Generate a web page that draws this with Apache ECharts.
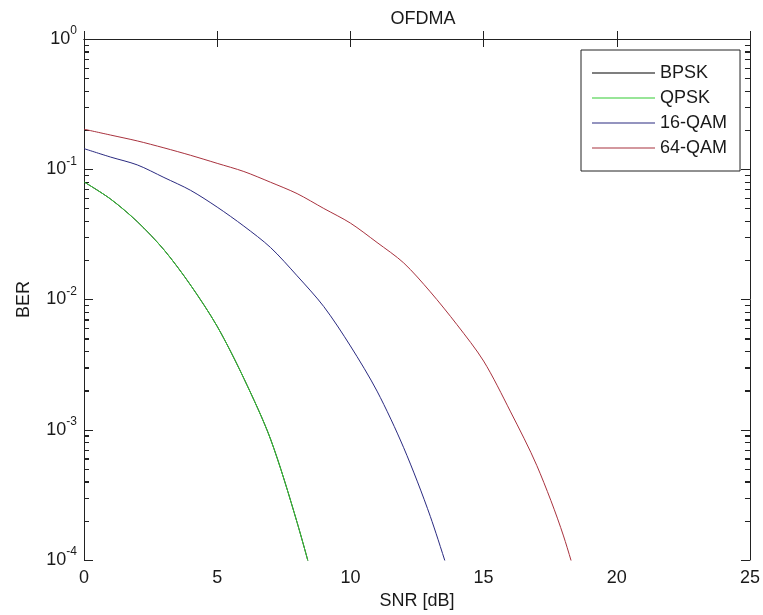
<!DOCTYPE html>
<html><head><meta charset="utf-8">
<script src="https://cdn.jsdelivr.net/npm/echarts@6/dist/echarts.min.js"></script>
<style>html,body{margin:0;padding:0;background:#fff}#c{width:763px;height:615px}</style>
</head><body><div id="c"></div>
<script>
// ---- data ----
const snrBPSK = [0,1,2,3,4,5,6,7,8,9];
const berBPSK = [0.080,0.059,0.0396,0.0241,0.0129,0.00622,0.00248,0.00085,0.000194,0.000035];
const snrQPSK = [0,1,2,3,4,5,6,7,8,9];
const berQPSK = [0.080,0.059,0.0396,0.0241,0.0129,0.00622,0.00248,0.00085,0.000194,0.000035];
const snr16QAM = [0,1,2,3,4,5,6,7,8,9,10,11,12,13,14];
const ber16QAM = [0.144,0.124,0.108,0.0865,0.0689,0.0512,0.0366,0.0251,0.0152,0.00883,0.0044,0.00198,0.000728,0.000216,0.00005];
const snr64QAM = [0,1,2,3,4,5,6,7,8,9,10,11,12,13,14,15,16,17,18,19];
const ber64QAM = [0.203,0.183,0.165,0.146,0.128,0.111,0.0961,0.0795,0.065,0.05,0.0386,0.0274,0.0191,0.01145,0.00641,0.00337,0.00139,0.00053,0.000153,0.00003];
const seriesNames = ['BPSK','QPSK','16-QAM','64-QAM'];
const xTickValues = [0,5,10,15,20,25];
const yDecadeExponents = [-4,-3,-2,-1,0];
const minorMultipliers = [2,3,4,5,6,7,8,9];

// ---- build ----
const pairs = (xs, ys) => xs.map((x, i) => [x, ys[i]]);
const yMin = Math.pow(10, yDecadeExponents[0]);
const yMax = Math.pow(10, yDecadeExponents[yDecadeExponents.length - 1]);
const xMin = xTickValues[0], xMax = xTickValues[xTickValues.length - 1];
const minorValues = [];
yDecadeExponents.slice(0, -1).forEach(e => minorMultipliers.forEach(m => minorValues.push(m * Math.pow(10, e))));
const minorLog = minorValues.map(v => Math.log10(v));

const txt = '#1a1a1a';
const axc = '#222';
const font = 'Liberation Sans, Arial, sans-serif';
const colors = ['#000000', '#33cc33', '#2a2a80', '#a8323e'];

const chart = echarts.init(document.getElementById('c'), null, {renderer: 'canvas'});
const axLine = {show: true, lineStyle: {color: axc, width: 1}};
const yMajor = (pos, labels) => ({
  type: 'log', logBase: 10, min: yMin, max: yMax,
  position: pos, axisLine: axLine, splitLine: {show: false},
  axisTick: {show: true, inside: true, length: 9, lineStyle: {color: axc}},
  axisLabel: labels ? {
    show: true, margin: 7, color: txt, fontFamily: font,
    formatter: v => '{b|10}{s|' + Math.round(Math.log10(v)) + '}',
    rich: {b: {fontSize: 18, fontFamily: font, color: txt}, s: {fontSize: 12, fontFamily: font, color: txt, padding: [0,0,16,0]}}
  } : {show: false}
});
const yMinor = (pos) => ({
  type: 'value', min: yDecadeExponents[0], max: yDecadeExponents[yDecadeExponents.length - 1], position: pos,
  axisLine: {show: false}, splitLine: {show: false}, axisLabel: {show: false},
  axisTick: {show: true, inside: true, length: 5, customValues: minorLog, lineStyle: {color: axc}}
});
const xAx = (pos, labels) => ({
  type: 'value', min: xMin, max: xMax, interval: 5, position: pos,
  axisLine: axLine, splitLine: {show: false},
  axisTick: {show: true, inside: true, length: 8, lineStyle: {color: axc}},
  axisLabel: labels ? {show: true, margin: 9, fontSize: 18, color: txt, fontFamily: font} : {show: false},
  name: labels ? 'SNR [dB]' : '', nameLocation: 'middle', nameGap: 32,
  nameTextStyle: {fontSize: 18, color: txt, fontFamily: font}
});

const y0 = yMajor('left', true);
y0.name = 'BER'; y0.nameLocation = 'middle'; y0.nameGap = 51;
y0.nameTextStyle = {fontSize: 18, color: txt, fontFamily: font};

const dataSets = [pairs(snrBPSK, berBPSK), pairs(snrQPSK, berQPSK), pairs(snr16QAM, ber16QAM), pairs(snr64QAM, ber64QAM)];

chart.setOption({
  animation: false,
  backgroundColor: '#fff',
  title: {text: 'OFDMA', left: 418, top: 5, textAlign: 'center',
    textStyle: {fontSize: 18, fontWeight: 'normal', color: txt, fontFamily: font}},
  grid: {left: 84, right: 11, top: 39, bottom: 55},
  legend: {
    orient: 'vertical', left: 581, top: 50, data: seriesNames,
    backgroundColor: '#fff', borderColor: axc, borderWidth: 1,
    padding: [11, 13, 11, 11], itemGap: 1, itemWidth: 63, itemHeight: 1, icon: 'rect',
    textStyle: {fontSize: 18, color: txt, fontFamily: font, lineHeight: 24}
  },
  xAxis: [xAx('bottom', true), xAx('top', false)],
  yAxis: [y0, yMinor('left'), yMajor('right', false), yMinor('right')],
  series: seriesNames.map((n, i) => ({
    name: n, type: 'line', xAxisIndex: 0, yAxisIndex: 0, data: dataSets[i],
    symbol: 'none', showSymbol: false, smooth: 0.3, clip: true,
    color: colors[i], lineStyle: {color: colors[i], width: 1}
  }))
});

// log minor ticks (inside, both sides), positioned through the chart's own scales
const minorLen = 5;
const gfx = [];
minorValues.forEach(v => {
  const pL = chart.convertToPixel({xAxisIndex: 0, yAxisIndex: 0}, [xMin, v]);
  const pR = chart.convertToPixel({xAxisIndex: 0, yAxisIndex: 0}, [xMax, v]);
  const y = Math.round(pL[1]) + 0.5;
  gfx.push({type: 'line', silent: true, shape: {x1: pL[0], y1: y, x2: pL[0] + minorLen, y2: y}, style: {stroke: axc, lineWidth: 1}});
  gfx.push({type: 'line', silent: true, shape: {x1: pR[0] - minorLen, y1: y, x2: pR[0], y2: y}, style: {stroke: axc, lineWidth: 1}});
});
chart.setOption({graphic: gfx});
</script></body></html>
